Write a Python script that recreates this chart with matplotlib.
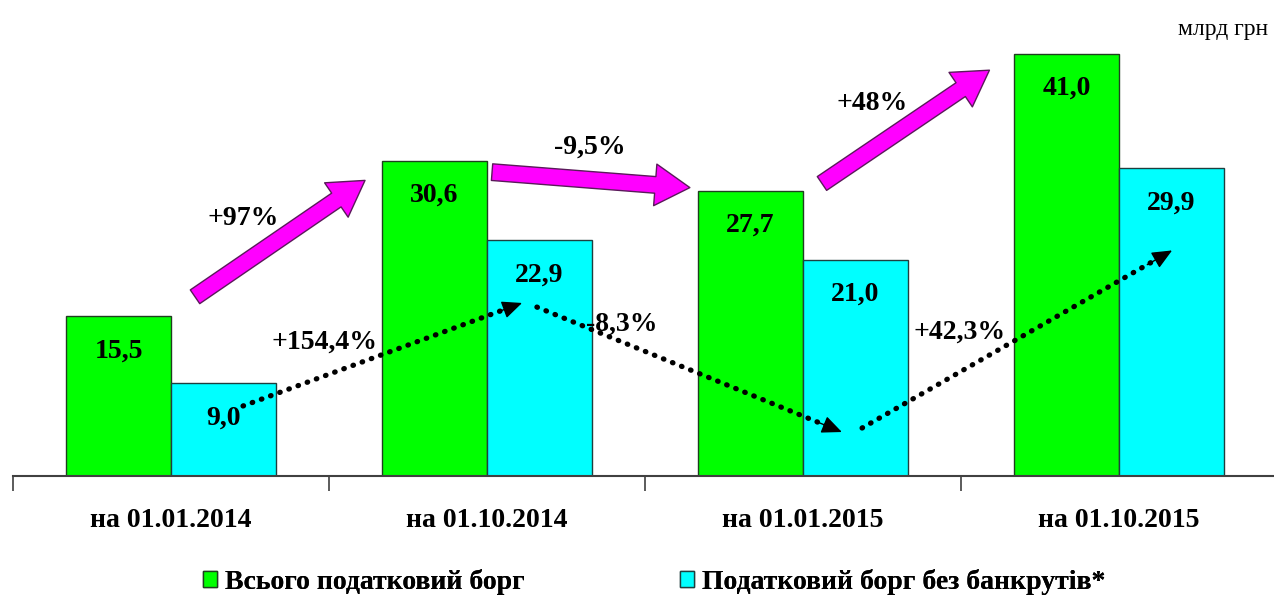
import matplotlib
matplotlib.use("Agg")
import matplotlib.pyplot as plt
from matplotlib.patches import Patch
import numpy as np

# ---- data ----
categories = ["на 01.01.2014", "на 01.10.2014", "на 01.01.2015", "на 01.10.2015"]
total_debt = [15.5, 30.6, 27.7, 41.0]
debt_no_bankrupt = [9.0, 22.9, 21.0, 29.9]
series_names = ["Всього податковий борг", "Податковий борг без банкрутів*"]
total_change_labels = ["+97%", "-9,5%", "+48%"]
nobank_change_labels = ["+154,4%", "-8,3%", "+42,3%"]
unit_label = "млрд грн"

# ---- styles / annotation geometry ----
GREEN = "#00FF00"
CYAN = "#00FFFF"
MAGENTA = "#FF00FF"
SERIF = ["Liberation Serif", "DejaVu Serif"]
bar_w = 0.332

# magenta block arrows (tail, tip) in data coords, and label centres
mag_arrows = [((0.076, 17.4), (0.614, 28.7)),
              ((1.016, 29.5), (1.642, 28.0)),
              ((2.06, 28.4), (2.59, 39.4))]
mag_label_pos = [(0.228, 25.0), (1.326, 31.9), (2.218, 36.2)]
# dotted arrows
dot_arrows = [((0.228, 6.8), (1.111, 16.8)),
              ((1.158, 16.4), (2.123, 4.27)),
              ((2.187, 4.66), (3.168, 21.9))]
dot_label_pos = [(0.487, 13.0), (1.427, 14.7), (2.497, 14.0)]

W, H = 1274, 606
fig = plt.figure(figsize=(W / 100, H / 100), dpi=100)
ax = fig.add_axes([13 / W, 130 / H, 1264 / W, 463.5 / H])

x = np.arange(len(categories))
b1 = ax.bar(x - bar_w / 2, total_debt, bar_w, color=GREEN, edgecolor="#1f3f1f", linewidth=1.0, zorder=2)
b2 = ax.bar(x + bar_w / 2, debt_no_bankrupt, bar_w, color=CYAN, edgecolor="#1f3f3f", linewidth=1.0, zorder=2)

ax.set_xlim(-0.5, len(categories) - 0.5)
ax.set_ylim(0, 45)

for bars, vals in ((b1, total_debt), (b2, debt_no_bankrupt)):
    for rect, v in zip(bars, vals):
        ax.annotate(f"{v:.1f}".replace(".", ","),
                    (rect.get_x() + rect.get_width() / 2, v),
                    xytext=(0, -25), textcoords="offset points",
                    ha="center", va="center", fontsize=20, fontweight="bold",
                    family=SERIF, zorder=5)

# magenta arrows
for (tail, tip), lab, lp in zip(mag_arrows, total_change_labels, mag_label_pos):
    ax.annotate("", xy=tip, xytext=tail,
                arrowprops=dict(arrowstyle="simple,head_width=30,head_length=25,tail_width=12",
                                mutation_scale=1, fc=MAGENTA, ec="#5a1a5a", lw=1.0,
                                shrinkA=0, shrinkB=0), zorder=4)
    ax.text(lp[0], lp[1], lab, ha="center", va="center", fontsize=20,
            fontweight="bold", family=SERIF, zorder=5)

# dotted arrows
for (tail, tip), lab, lp in zip(dot_arrows, nobank_change_labels, dot_label_pos):
    t = np.array(tail); p = np.array(tip)
    d = p - t
    end = t + d * 0.96
    ax.plot([t[0], end[0]], [t[1], end[1]], color="black", lw=3.8,
            linestyle=(0, (0.1, 1.75)), dash_capstyle="round", zorder=4)
    ax.annotate("", xy=tip, xytext=tuple(t + d * 0.92),
                arrowprops=dict(arrowstyle="-|>,head_width=0.42,head_length=0.95",
                                mutation_scale=13, fc="black", ec="black", lw=1,
                                shrinkA=0, shrinkB=0), zorder=4)
    ax.text(lp[0], lp[1], lab, ha="center", va="center", fontsize=20,
            fontweight="bold", family=SERIF, zorder=5)

# axes styling
for s in ("left", "right", "top"):
    ax.spines[s].set_visible(False)
ax.spines["bottom"].set_color("#404040")
ax.spines["bottom"].set_linewidth(1.5)
ax.set_yticks([])
ax.set_xticks(x)
ax.set_xticklabels(categories, fontsize=20, fontweight="bold", family=SERIF)
ax.tick_params(axis="x", length=0, pad=23)
ax.set_xticks(np.arange(len(categories) + 1) - 0.5, minor=True)
ax.tick_params(axis="x", which="minor", length=11, width=1.2, color="#404040", direction="out")

fig.text(1268 / W, 1 - 30 / H, unit_label, ha="right", va="center", fontsize=17, family=SERIF)

handles = [Patch(facecolor=GREEN, edgecolor="#1f3f1f", lw=1),
           Patch(facecolor=CYAN, edgecolor="#1f3f3f", lw=1)]
leg_x = [203 / W, 680 / W]
for hnd, name, lx in zip(handles, series_names, leg_x):
    lg = fig.legend([hnd], [name], loc="center left", bbox_to_anchor=(lx, 1 - 582 / H),
                    frameon=False, prop=dict(family=SERIF, weight="bold", size=20),
                    handlelength=0.5, handleheight=0.5, handletextpad=0.3,
                    borderaxespad=0, borderpad=0)
    fig.add_artist(lg)

fig.savefig("out.png", dpi=100, facecolor="white")
